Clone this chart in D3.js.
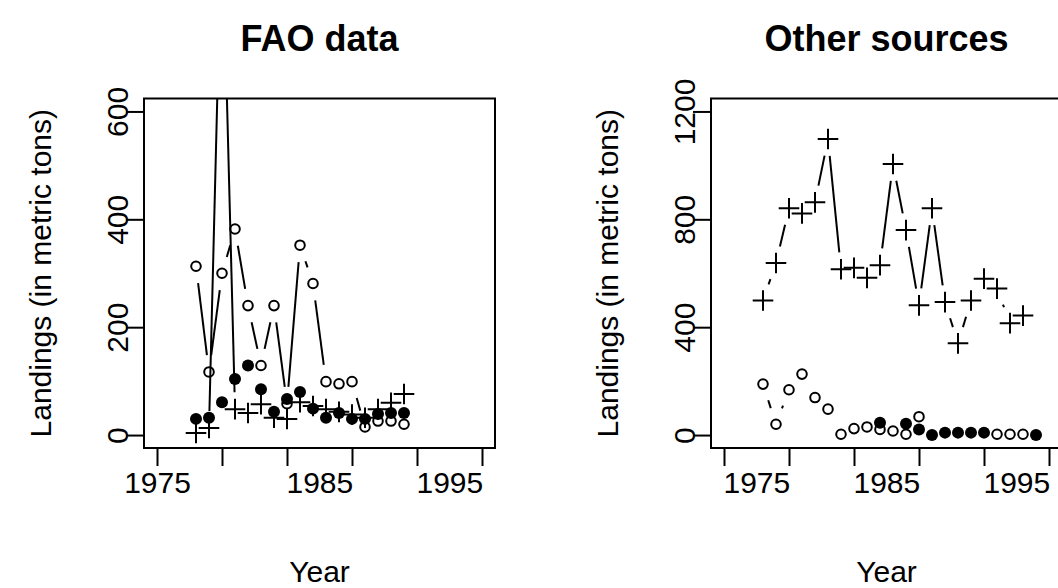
<!DOCTYPE html>
<html>
<head>
<meta charset="utf-8">
<script src="https://d3js.org/d3.v7.min.js"></script>
<style>
  body { margin: 0; background: #fff; }
  svg text { font-family: "Liberation Sans", Arial, Helvetica, sans-serif; fill: #000; }
</style>
</head>
<body>
<svg id="chart"></svg>
<script>
// FAO data panel
var faoYears = [1978, 1979, 1980, 1981, 1982, 1983, 1984, 1985, 1986, 1987, 1988, 1989, 1990, 1991, 1992, 1993, 1994];
var faoOpen  = [313, 117, 300, 382, 240, 129, 240, 58, 352, 281, 99, 95, 99, 15, 26, 26, 20];
var faoFill  = [30, 32, 61, 104, 129, 85, 43, 67, 80, 49, 32, 41, 30, 30, 39, 41, 41];
var faoPlus  = [4, 13, 975, 48, 41, 57, 32, 30, 61, 54, 48, 43, 38, 32, 48, 60, 76];

// Other sources panel
var othYears = [1978, 1979, 1980, 1981, 1982, 1983, 1984, 1985, 1986, 1987, 1988,
                1989, 1990, 1991, 1992, 1993, 1994, 1995, 1996, 1997, 1998, 1999];
var othOpen  = [189, 40, 168, 226, 139, 96, 3, 24, 30, 21, 15,
                3, 68, null, null, null, null, null, 3, 3, 3, null];
var othFill  = [null, null, null, null, null, null, null, null, null, 46, null,
                42, 21, 0, 9, 9, 9, 9, null, null, null, 0];
var othPlus  = [499, 638, 841, 822, 863, 1098, 615, 620, 583, 630, 1005,
                760, 481, 841, 493, 340, 499, 580, 543, 415, 443, null];

var xTicks = [1975, 1980, 1985, 1990, 1995, 2000];
var xLabels = [1975, 1985, 1995];
var faoYTicks = [0, 200, 400, 600];
var othYTicks = [0, 400, 800, 1200];

var width = 1058,
  height = 588;

var svg = d3.select("#chart")
  .attr("width", width)
  .attr("height", height);

var gap = 17;   // type="b" gap round each point

function gapSegments(pts) {
  var segs = [];
  for (var i = 0; i < pts.length - 1; i++) {
    var a = pts[i], b = pts[i + 1];
    if (!a || !b) continue;
    var dx = b[0] - a[0], dy = b[1] - a[1];
    var d = Math.sqrt(dx * dx + dy * dy);
    if (d > 2 * gap) {
      var f = gap / d;
      segs.push([a[0] + f * dx, a[1] + f * dy, b[0] - f * dx, b[1] - f * dy]);
    }
  }
  return segs;
}

function panel(opt) {
  var x = d3.scaleLinear().domain([1974, 2001]).range([opt.left, opt.right]);
  var y = d3.scaleLinear().domain(opt.yDomain).range([448, 98.5]);

  var g = svg.append("g");

  g.append("clipPath").attr("id", opt.id + "clip")
    .append("rect")
    .attr("x", opt.left).attr("y", 98.5)
    .attr("width", opt.right - opt.left).attr("height", 448 - 98.5);

  // x axis (labels start at their tick, except where centred)
  var xa = g.append("g")
    .attr("transform", "translate(0,448)")
    .call(d3.axisBottom(x).tickValues(xTicks).tickSize(18).tickSizeOuter(0).tickPadding(6)
      .tickFormat(function(d) { return xLabels.indexOf(d) >= 0 ? d : ""; }));
  xa.select(".domain").remove();
  xa.selectAll("line").attr("stroke", "#000").attr("stroke-width", 2);
  xa.selectAll("text").attr("font-size", 30).attr("fill", "#000")
    .attr("text-anchor", function(d) { return opt.centred.indexOf(d) >= 0 ? "middle" : "start"; })
    .attr("x", function(d) { return opt.centred.indexOf(d) >= 0 ? 0 : -1; })
    .style("font-family", "'Liberation Sans', Arial, sans-serif");

  // y axis
  var ya = g.append("g")
    .attr("transform", "translate(" + opt.left + ",0)")
    .call(d3.axisLeft(y).tickValues(opt.yTicks).tickSize(18).tickSizeOuter(0)
      .tickFormat(d3.format("d")));
  ya.select(".domain").remove();
  ya.selectAll("line").attr("stroke", "#000").attr("stroke-width", 2);
  ya.selectAll("text")
    .attr("x", null).attr("dy", null)
    .attr("text-anchor", "middle")
    .attr("transform", "translate(-16,0) rotate(-90)")
    .attr("font-size", 30).attr("fill", "#000")
    .style("font-family", "'Liberation Sans', Arial, sans-serif");

  // box
  g.append("rect")
    .attr("x", opt.left).attr("y", 98.5)
    .attr("width", opt.right - opt.left).attr("height", 448 - 98.5)
    .attr("fill", "none").attr("stroke", "#000").attr("stroke-width", 2);

  var plot = g.append("g").attr("clip-path", "url(#" + opt.id + "clip)");

  opt.series.forEach(function(s) {
    var pts = opt.years.map(function(yr, i) {
      return s.values[i] == null ? null : [x(yr), y(s.values[i])];
    });
    plot.selectAll(null).data(gapSegments(pts))
      .enter().append("line")
      .attr("x1", function(d) { return d[0]; })
      .attr("y1", function(d) { return d[1]; })
      .attr("x2", function(d) { return d[2]; })
      .attr("y2", function(d) { return d[3]; })
      .attr("stroke", "#000").attr("stroke-width", 2);

    var p = pts.filter(function(d) { return d; });
    if (s.pch === "open") {
      plot.selectAll(null).data(p).enter().append("circle")
        .attr("cx", function(d) { return d[0]; })
        .attr("cy", function(d) { return d[1]; })
        .attr("r", 4.8)
        .attr("fill", "none").attr("stroke", "#000").attr("stroke-width", 2);
    } else if (s.pch === "fill") {
      plot.selectAll(null).data(p).enter().append("circle")
        .attr("cx", function(d) { return d[0]; })
        .attr("cy", function(d) { return d[1]; })
        .attr("r", 6)
        .attr("fill", "#000");
    } else {
      plot.selectAll(null).data(p).enter().append("path")
        .attr("d", function(d) {
          return "M" + (d[0] - 10.3) + "," + d[1] + "H" + (d[0] + 10.3) +
            "M" + d[0] + "," + (d[1] - 10.3) + "V" + (d[1] + 10.3);
        })
        .attr("stroke", "#000").attr("stroke-width", 2);
    }
  });

  var cx = (opt.left + opt.right) / 2;
  g.append("text")
    .attr("x", cx).attr("y", 51)
    .attr("text-anchor", "middle")
    .attr("font-size", 36).attr("font-weight", "bold")
    .text(opt.title);

  g.append("text")
    .attr("x", cx).attr("y", 582)
    .attr("text-anchor", "middle")
    .attr("font-size", 30)
    .text("Year");

  g.append("text")
    .attr("transform", "translate(" + (opt.left - 93) + "," + ((448 + 98.5) / 2) + ") rotate(-90)")
    .attr("text-anchor", "middle")
    .attr("font-size", 30)
    .text("Landings (in metric tons)");
}

panel({
  id: "fao", left: 144, right: 495, centred: [1975],
  yDomain: [-24, 624], yTicks: faoYTicks,
  title: "FAO data", years: faoYears,
  series: [
    { values: faoOpen, pch: "open" },
    { values: faoFill, pch: "fill" },
    { values: faoPlus, pch: "plus" }
  ]
});

panel({
  id: "oth", left: 711, right: 1062, centred: [],
  yDomain: [-48, 1248], yTicks: othYTicks,
  title: "Other sources", years: othYears,
  series: [
    { values: othOpen, pch: "open" },
    { values: othFill, pch: "fill" },
    { values: othPlus, pch: "plus" }
  ]
});
</script>
</body>
</html>
